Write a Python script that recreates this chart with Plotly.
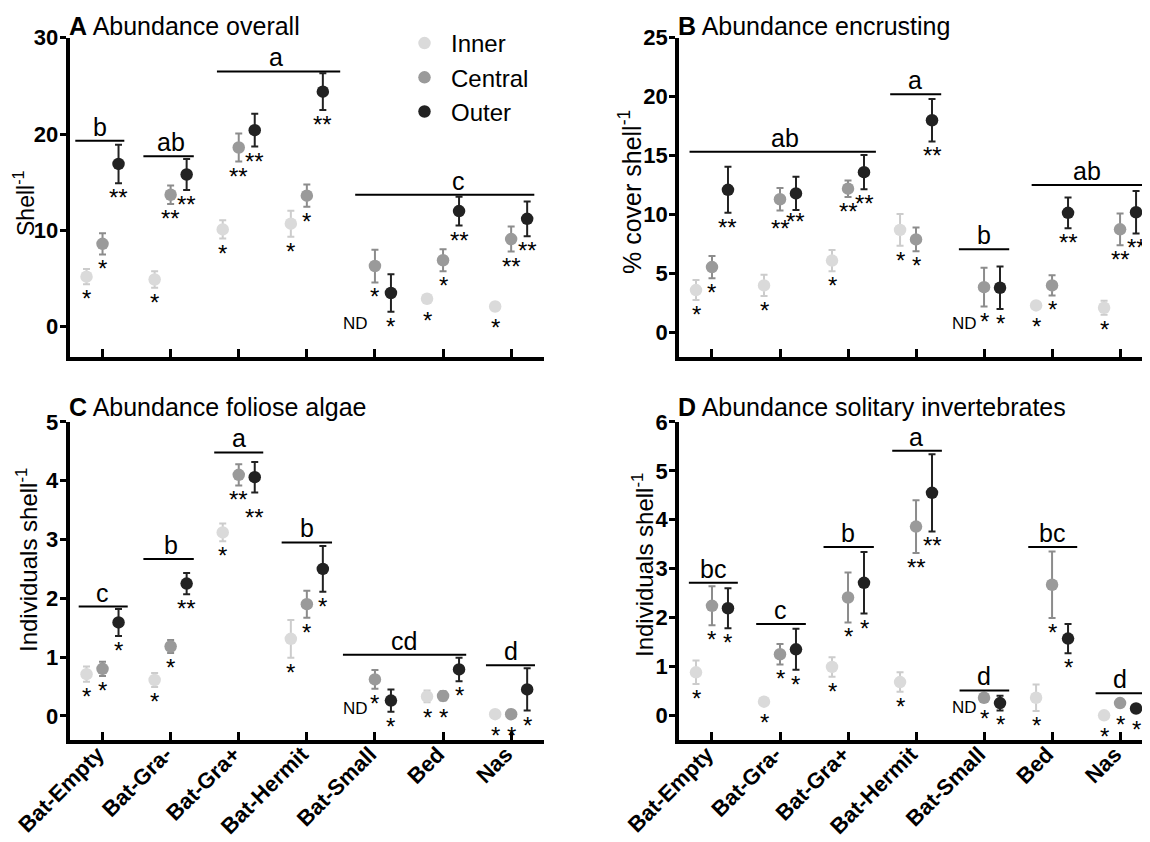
import plotly.graph_objects as go

# ---------------- data ----------------
categories = ["Bat-Empty", "Bat-Gra-", "Bat-Gra+", "Bat-Hermit", "Bat-Small", "Bed", "Nas"]
series_names = ["Inner", "Central", "Outer"]

# A  Abundance overall (Shell^-1)
A_inner = [5.2, 4.9, 10.1, 10.7, None, 2.9, 2.1]
A_inner_se = [0.8, 0.85, 0.95, 1.35, None, 0.2, 0.4]
A_central = [8.6, 13.7, 18.6, 13.6, 6.3, 6.9, 9.1]
A_central_se = [1.1, 0.95, 1.45, 1.15, 1.7, 1.15, 1.3]
A_outer = [16.9, 15.8, 20.4, 24.4, 3.5, 12.0, 11.2]
A_outer_se = [2.0, 1.6, 1.7, 1.9, 1.95, 1.5, 1.8]
A_sig_inner = ["*", "*", "*", "*", "", "*", "*"]
A_sig_central = ["*", "**", "**", "*", "*", "*", "**"]
A_sig_outer = ["**", "**", "**", "**", "*", "**", "**"]
A_groups = ["b", "ab", "a", "c"]
A_group_from = [-0.40, 0.60, 1.68, 3.71]
A_group_to = [0.32, 1.34, 3.49, 6.34]
A_group_level = [19.3, 17.7, 26.5, 13.7]
A_group_label_x = [-0.03, 1.0, 2.54, 5.23]

# B  Abundance encrusting (% cover shell^-1)
B_inner = [3.6, 4.0, 6.1, 8.7, None, 2.3, 2.1]
B_inner_se = [0.85, 0.9, 0.9, 1.35, None, 0.2, 0.6]
B_central = [5.55, 11.3, 12.2, 7.9, 3.85, 4.0, 8.75]
B_central_se = [0.95, 0.95, 0.7, 1.0, 1.65, 0.85, 1.35]
B_outer = [12.1, 11.8, 13.6, 18.0, 3.8, 10.15, 10.2]
B_outer_se = [1.95, 1.4, 1.45, 1.8, 1.8, 1.3, 1.8]
B_sig_inner = ["*", "*", "*", "*", "", "*", "*"]
B_sig_central = ["*", "**", "**", "*", "*", "*", "**"]
B_sig_outer = ["**", "**", "**", "**", "*", "**", "**"]
B_groups = ["ab", "a", "b", "ab"]
B_group_from = [-0.33, 2.62, 3.63, 4.70]
B_group_to = [2.41, 3.37, 4.37, 6.34]
B_group_level = [15.34, 20.2, 7.06, 12.51]
B_group_label_x = [1.08, 2.98, 4.0, 5.51]

# C  Abundance foliose algae (Individuals shell^-1)
C_inner = [0.71, 0.61, 3.12, 1.31, None, 0.33, 0.03]
C_inner_se = [0.13, 0.12, 0.15, 0.32, None, 0.1, 0.02]
C_central = [0.80, 1.18, 4.10, 1.90, 0.62, 0.34, 0.03]
C_central_se = [0.12, 0.11, 0.18, 0.23, 0.16, 0.08, 0.02]
C_outer = [1.59, 2.25, 4.06, 2.50, 0.26, 0.79, 0.45]
C_outer_se = [0.23, 0.18, 0.26, 0.39, 0.19, 0.2, 0.36]
C_sig_inner = ["*", "*", "*", "*", "", "*", "*"]
C_sig_central = ["*", "*", "**", "*", "*", "*", "*"]
C_sig_outer = ["*", "**", "**", "*", "*", "*", "*"]
C_groups = ["c", "b", "a", "b", "cd", "d"]
C_group_from = [-0.35, 0.60, 1.64, 2.63, 3.53, 5.63]
C_group_to = [0.37, 1.34, 2.36, 3.37, 5.34, 6.35]
C_group_level = [1.86, 2.67, 4.48, 2.95, 1.04, 0.86]
C_group_label_x = [0.0, 1.0, 2.0, 3.0, 4.42, 6.0]

# D  Abundance solitary invertebrates (Individuals shell^-1)
D_inner = [0.88, 0.28, 0.99, 0.68, None, 0.36, 0.0]
D_inner_se = [0.24, 0.03, 0.2, 0.2, None, 0.27, 0.02]
D_central = [2.24, 1.25, 2.41, 3.86, 0.36, 2.67, 0.25]
D_central_se = [0.4, 0.21, 0.51, 0.54, 0.03, 0.68, 0.03]
D_outer = [2.19, 1.35, 2.71, 4.55, 0.25, 1.57, 0.14]
D_outer_se = [0.41, 0.42, 0.63, 0.79, 0.15, 0.3, 0.03]
D_sig_inner = ["*", "*", "*", "*", "", "*", "*"]
D_sig_central = ["*", "*", "*", "**", "*", "*", "*"]
D_sig_outer = ["*", "*", "*", "**", "*", "*", "*"]
D_groups = ["bc", "c", "b", "a", "d", "bc", "d"]
D_group_from = [-0.34, 0.65, 1.64, 2.65, 3.64, 4.65, 5.64]
D_group_to = [0.38, 1.38, 2.38, 3.38, 4.37, 5.37, 6.37]
D_group_level = [2.71, 1.87, 3.44, 5.41, 0.51, 3.44, 0.45]
D_group_label_x = [0.01, 1.0, 2.0, 3.0, 4.0, 5.0, 6.0]

# ---------------- styling ----------------
PAGE_W, PAGE_H = 1150, 842
BODY = 8  # default page body margin in the browser
W, H = PAGE_W - BODY, PAGE_H - BODY
FONT = "Liberation Sans, Arial, Helvetica, sans-serif"
marker_colors = ["#dadada", "#9a9a9a", "#222222"]
error_colors = ["#cccccc", "#8c8c8c", "#222222"]
offsets = [-0.235, 0.0, 0.235]
MSIZE = 12.5
# small pixel nudges for star labels that would otherwise collide (panel, series, category)
star_nudge = {("B", 1, 1): -4, ("B", 2, 1): 3, ("C", 2, 2): -11}


def px(sx):  # screen x -> paper fraction
    return (sx - BODY) / W


def py(sy):  # screen y -> paper fraction
    return 1 - (sy - BODY) / H


left_dom = [px(69.5), px(543.5)]
right_dom = [px(679.0), 1.0]
top_dom = [py(356.5), py(37.7)]
bot_dom = [py(740.0), py(421.9)]

panels = [
    dict(letter="A", name="Abundance overall", xa="x", ya="y",
         vals=[A_inner, A_central, A_outer], errs=[A_inner_se, A_central_se, A_outer_se],
         sigs=[A_sig_inner, A_sig_central, A_sig_outer],
         groups=(A_groups, A_group_from, A_group_to, A_group_level, A_group_label_x),
         xdom=left_dom, ydom=top_dom, xr=[-0.485, 6.475], yr=[-3.09, 30], ytv=[0, 10, 20, 30],
         ytitle="Shell<sup>-1</sup>", ytitle_pos=(24, 203), ytitle_size=23,
         title_pos=(67, 26), nd_y=0.31, xlabels=False),
    dict(letter="B", name="Abundance encrusting", xa="x2", ya="y2",
         vals=[B_inner, B_central, B_outer], errs=[B_inner_se, B_central_se, B_outer_se],
         sigs=[B_sig_inner, B_sig_central, B_sig_outer],
         groups=(B_groups, B_group_from, B_group_to, B_group_level, B_group_label_x),
         xdom=right_dom, ydom=top_dom, xr=[-0.485, 6.44], yr=[-2.03, 25], ytv=[0, 5, 10, 15, 20, 25],
         ytitle="% cover shell<sup>-1</sup>", ytitle_pos=(630, 192), ytitle_size=25,
         title_pos=(676, 26), nd_y=0.73, xlabels=False),
    dict(letter="C", name="Abundance foliose algae", xa="x3", ya="y3",
         vals=[C_inner, C_central, C_outer], errs=[C_inner_se, C_central_se, C_outer_se],
         sigs=[C_sig_inner, C_sig_central, C_sig_outer],
         groups=(C_groups, C_group_from, C_group_to, C_group_level, C_group_label_x),
         xdom=left_dom, ydom=bot_dom, xr=[-0.485, 6.475], yr=[-0.41, 5], ytv=[0, 1, 2, 3, 4, 5],
         ytitle="Individuals shell<sup>-1</sup>", ytitle_pos=(27, 560), ytitle_size=24,
         title_pos=(67, 407), nd_y=0.13, xlabels=True),
    dict(letter="D", name="Abundance solitary invertebrates", xa="x4", ya="y4",
         vals=[D_inner, D_central, D_outer], errs=[D_inner_se, D_central_se, D_outer_se],
         sigs=[D_sig_inner, D_sig_central, D_sig_outer],
         groups=(D_groups, D_group_from, D_group_to, D_group_level, D_group_label_x),
         xdom=right_dom, ydom=bot_dom, xr=[-0.485, 6.44], yr=[-0.504, 6], ytv=[0, 1, 2, 3, 4, 5, 6],
         ytitle="Individuals shell<sup>-1</sup>", ytitle_pos=(643, 565), ytitle_size=24,
         title_pos=(676, 407), nd_y=0.16, xlabels=True),
]

fig = go.Figure()
annotations = []
shapes = []
layout_axes = {}

for pi, p in enumerate(panels):
    xa, ya = p["xa"], p["ya"]
    ppu = (p["ydom"][1] - p["ydom"][0]) * H / (p["yr"][1] - p["yr"][0])  # px per data unit
    r_data = (MSIZE / 2 + 0.5) / ppu
    for si in range(3):
        xs = [i + offsets[si] for i in range(len(categories))]
        fig.add_trace(go.Scatter(
            x=xs, y=p["vals"][si], mode="markers", name=series_names[si],
            xaxis=xa, yaxis=ya, showlegend=(pi == 0), legendrank=si,
            marker=dict(size=MSIZE, color=marker_colors[si], line=dict(width=0)),
            error_y=dict(type="data", array=p["errs"][si], visible=True,
                         color=error_colors[si], thickness=2, width=3.5),
            hoverinfo="skip"))
        # significance stars
        for i, (v, e, s) in enumerate(zip(p["vals"][si], p["errs"][si], p["sigs"][si])):
            if v is None or not s:
                continue
            low = min(v - e, v - r_data)
            annotations.append(dict(x=xs[i], y=low, xref=xa, yref=ya, text=s,
                                    showarrow=False, yanchor="top", xanchor="center",
                                    yshift=1 + star_nudge.get((p["letter"], si, i), 0),
                                    font=dict(family=FONT, size=24, color="black")))
    # ND label (no data for Inner at Bat-Small)
    annotations.append(dict(x=4 - 0.29, y=p["nd_y"], xref=xa, yref=ya, text="ND",
                            showarrow=False, xanchor="center", yanchor="middle",
                            font=dict(family=FONT, size=17, color="black")))
    # group letters with lines
    g_lab, g_from, g_to, g_lvl, g_x = p["groups"]
    for lab, x0, x1, lv, lx in zip(g_lab, g_from, g_to, g_lvl, g_x):
        shapes.append(dict(type="line", xref=xa, yref=ya, x0=x0, x1=x1, y0=lv, y1=lv,
                           line=dict(color="black", width=2)))
        annotations.append(dict(x=lx, y=lv, xref=xa, yref=ya, text=lab, showarrow=False,
                                xanchor="center", yanchor="bottom", yshift=-2,
                                font=dict(family=FONT, size=25, color="black")))
    # panel title
    annotations.append(dict(x=px(p["title_pos"][0]), y=py(p["title_pos"][1]),
                            xref="paper", yref="paper", xanchor="left", yanchor="middle",
                            text="<b>" + p["letter"] + "</b> " + p["name"], showarrow=False,
                            font=dict(family=FONT, size=25, color="black")))
    # y-axis title
    annotations.append(dict(x=px(p["ytitle_pos"][0]), y=py(p["ytitle_pos"][1]),
                            xref="paper", yref="paper", xanchor="center", yanchor="middle",
                            text=p["ytitle"], textangle=-90, showarrow=False,
                            font=dict(family=FONT, size=p["ytitle_size"], color="black")))

    xkey = "xaxis" + ("" if xa == "x" else xa[1:])
    ykey = "yaxis" + ("" if ya == "y" else ya[1:])
    layout_axes[xkey] = dict(
        domain=p["xdom"], range=p["xr"], anchor=ya, tickmode="array",
        tickvals=list(range(len(categories))), ticktext=categories,
        showticklabels=p["xlabels"], tickangle=-45, automargin=False,
        ticklabelshift=-5, ticklabelstandoff=-11, ticklabeloverflow="allow",
        tickfont=dict(family=FONT, size=22, color="black", weight="bold"),
        ticks="inside", ticklen=8, tickwidth=3, tickcolor="black",
        showline=True, linewidth=3.5, linecolor="black",
        showgrid=False, zeroline=False, fixedrange=True)
    layout_axes[ykey] = dict(
        domain=p["ydom"], range=p["yr"], anchor=xa, tickmode="array",
        tickvals=p["ytv"], ticktext=[str(t) for t in p["ytv"]], automargin=False,
        ticklabelstandoff=-3, ticklabeloverflow="allow",
        tickfont=dict(family=FONT, size=22, color="black", weight="bold"),
        ticks="outside", ticklen=6, tickwidth=3, tickcolor="black",
        showline=True, linewidth=3.5, linecolor="black",
        showgrid=False, zeroline=False, fixedrange=True)

fig.update_layout(
    template="none",
    width=W, height=H,
    margin=dict(l=0, r=0, t=0, b=0, autoexpand=False),
    paper_bgcolor="white", plot_bgcolor="white",
    font=dict(family=FONT, color="black"),
    annotations=annotations, shapes=shapes,
    legend=dict(x=px(398), y=py(21), xanchor="left", yanchor="top",
                font=dict(family=FONT, size=24, color="black"),
                bgcolor="rgba(0,0,0,0)", itemwidth=43, tracegroupgap=0),
    **layout_axes,
)

fig.write_html("out.html")
